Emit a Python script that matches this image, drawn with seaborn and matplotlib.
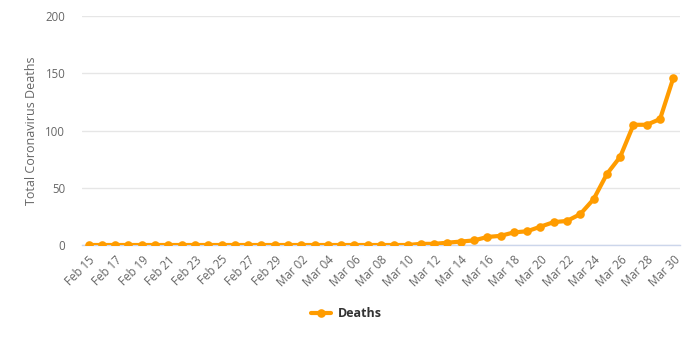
import matplotlib
matplotlib.use("Agg")
import matplotlib.pyplot as plt
import seaborn as sns
import pandas as pd
import numpy as np
from matplotlib.lines import Line2D

# Daily cumulative deaths, Feb 15 - Mar 30
dates = (["Feb %02d" % d for d in range(15, 30)] +
         ["Mar %02d" % d for d in range(1, 31)])
deaths = [0] * 25 + [1, 1, 2, 3, 4, 7, 8, 11, 12, 16, 20, 21, 27, 40, 62,
                     77, 105, 105, 110, 146]
y_ticks = [0, 50, 100, 150, 200]

sns.set_theme(style="white")
plt.rcParams["font.family"] = ["Open Sans", "DejaVu Sans"]

df = pd.DataFrame({"pos": np.arange(len(dates)), "date": dates, "deaths": deaths})

fig = plt.figure(figsize=(6.97, 3.48), dpi=100)
ax = fig.add_axes([0.1176, 0.296, 0.858, 0.658])

orange = "#FF9C00"
sns.lineplot(data=df, x="pos", y="deaths", ax=ax, color=orange, linewidth=3.0,
             marker="o", markersize=6.2, markeredgewidth=0, zorder=3)

ax.set_xlim(-0.5, len(dates) - 0.5)
ax.set_ylim(0, 200)
ax.set_yticks(y_ticks)
ax.set_yticklabels([str(v) for v in y_ticks])
ax.set_xticks(df["pos"][::2])
ax.set_xticklabels(df["date"][::2], rotation=45, ha="right",
                   rotation_mode="anchor")

ax.grid(axis="y", color="#e6e6e6", linewidth=1)
ax.set_axisbelow(True)
for side in ["top", "right", "left"]:
    ax.spines[side].set_visible(False)
ax.spines["bottom"].set_color("#ccd6eb")
ax.spines["bottom"].set_linewidth(1)

ax.tick_params(axis="both", length=0, colors="#666666", labelsize=8.3)
ax.tick_params(axis="x", pad=6)
ax.tick_params(axis="y", pad=12)

ax.set_xlabel("")
ax.set_ylabel("Total Coronavirus Deaths", color="#666666", fontsize=9,
              labelpad=5)

handle = Line2D([], [], color=orange, linewidth=3.0, marker="o",
                markersize=6.2, markeredgewidth=0)
fig.legend([handle], ["Deaths"], loc="center", bbox_to_anchor=(0.497, 0.098),
           frameon=False, handlelength=1.6, handletextpad=0.5,
           prop={"weight": "bold", "size": 9})
for t in fig.legends[0].get_texts():
    t.set_color("#333333")

fig.savefig("out.png", dpi=100)
